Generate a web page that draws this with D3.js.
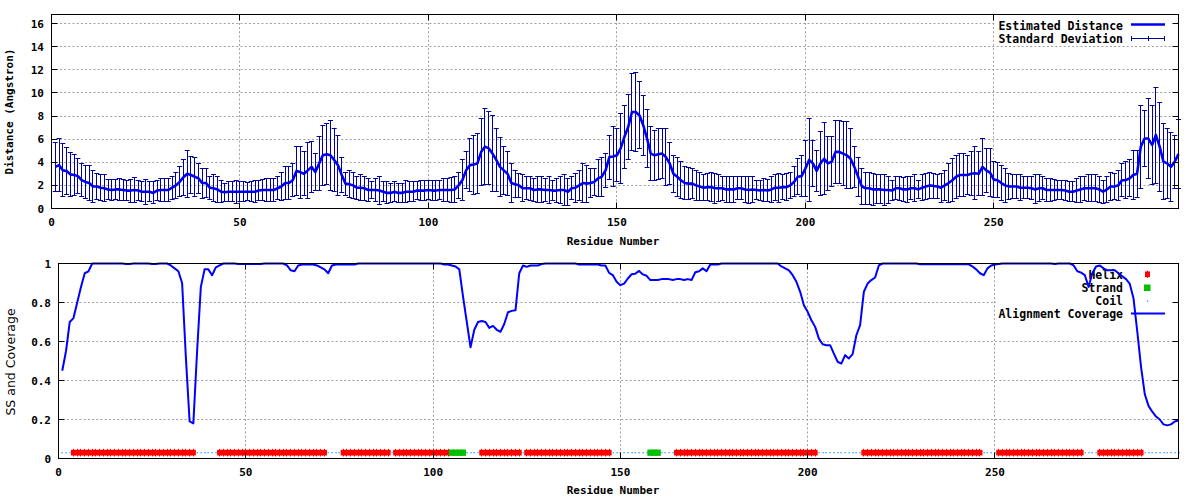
<!DOCTYPE html>
<html><head><meta charset="utf-8">
<script src="https://cdn.jsdelivr.net/npm/d3@7"></script>
<style>body{margin:0;background:#fff}svg{display:block}</style>
</head><body>
<svg id="c" width="1200" height="500"></svg>
<script>
// ---------- DATA (residues 1..299) ----------
const distance = [
3.6,3.75,3.3,3.25,2.95,2.9,2.8,2.45,2.3,2.2,
1.9,1.9,1.8,1.75,1.65,1.6,1.65,1.65,1.6,1.55,
1.55,1.6,1.55,1.45,1.45,1.45,1.35,1.55,1.6,1.6,
1.6,1.8,2.0,2.3,2.7,3.0,2.9,2.75,2.6,2.2,
2.2,1.8,1.75,1.65,1.45,1.4,1.45,1.45,1.45,1.45,
1.45,1.45,1.45,1.45,1.55,1.6,1.6,1.6,1.6,1.75,
1.9,2.2,2.2,2.45,3.25,3.15,3.0,3.3,3.6,3.15,
3.9,4.6,4.7,4.6,4.2,3.75,2.9,2.15,2.1,2.0,
1.8,1.8,1.75,1.6,1.6,1.6,1.55,1.45,1.35,1.35,
1.45,1.35,1.35,1.45,1.45,1.45,1.55,1.55,1.55,1.6,
1.55,1.55,1.6,1.6,1.6,1.6,1.65,2.0,2.45,3.3,
3.75,3.8,3.9,4.9,5.35,5.2,4.75,4.2,3.6,3.3,
3.0,2.2,2.1,2.0,1.75,1.75,1.75,1.6,1.65,1.65,
1.6,1.6,1.55,1.55,1.6,1.6,1.45,1.75,1.8,2.0,
2.2,2.15,2.2,2.3,2.6,2.75,3.3,4.45,4.5,4.6,
5.2,6.2,7.05,8.35,8.35,8.05,7.2,6.05,4.75,4.6,
4.7,4.75,4.45,3.9,3.0,2.75,2.45,2.2,2.15,2.15,
2.0,1.9,1.8,1.85,1.85,1.75,1.75,1.75,1.65,1.65,
1.65,1.75,1.75,1.65,1.6,1.65,1.6,1.55,1.6,1.55,
1.65,1.8,1.8,1.85,1.85,2.0,2.3,2.75,2.8,3.45,
4.2,3.9,3.25,3.9,4.3,3.9,4.05,4.9,4.9,4.75,
4.6,4.3,3.6,2.75,1.9,1.75,1.75,1.65,1.65,1.65,
1.6,1.6,1.55,1.75,1.75,1.65,1.65,1.75,1.75,1.65,
1.8,1.9,2.0,1.95,1.9,1.8,2.0,2.2,2.45,2.75,
2.9,2.9,2.9,3.0,3.05,3.0,3.6,3.3,3.1,2.5,
2.45,2.2,2.0,1.9,1.9,1.9,1.8,1.8,1.8,1.75,
1.65,1.75,1.75,1.6,1.6,1.6,1.6,1.6,1.55,1.45,
1.45,1.55,1.65,1.75,1.75,1.75,1.75,1.65,1.45,1.65,
1.9,1.9,2.0,2.45,2.45,2.6,2.9,3.0,5.35,6.05,
6.05,5.5,6.35,5.35,4.05,3.9,3.6,4.05,4.7];

const stdDev = [
2.1,2.3,2.3,2.0,1.9,1.8,1.5,1.45,1.45,1.5,
1.4,1.15,1.15,1.15,0.9,0.95,0.9,0.95,0.95,0.9,
1.0,1.1,0.9,0.85,1.1,0.85,0.95,0.9,1.0,1.0,
1.0,1.0,1.15,1.3,1.55,2.05,1.6,1.7,1.3,1.3,
1.25,1.0,1.15,1.1,0.95,0.8,0.85,0.85,1.0,0.85,
0.85,0.8,0.85,0.95,0.9,0.95,1.0,1.0,1.0,1.0,
1.25,1.4,1.45,1.45,2.15,2.25,1.9,2.45,2.2,1.6,
2.3,2.6,2.65,3.05,2.7,2.6,1.55,1.0,1.15,1.15,
1.0,1.1,1.05,1.0,0.7,1.0,1.2,0.85,0.95,0.85,
0.85,0.85,0.85,0.95,0.85,0.85,0.75,0.9,0.9,0.85,
0.9,0.9,0.85,1.0,1.0,1.05,1.1,1.15,1.75,1.6,
2.3,2.55,2.6,2.9,3.3,3.15,3.3,2.7,2.55,2.05,
1.9,1.7,1.15,1.05,1.15,1.0,1.05,1.0,1.1,1.1,
1.0,1.15,0.9,1.05,1.15,1.3,1.15,1.0,1.25,1.3,
1.7,1.6,1.25,1.15,1.6,1.7,1.45,1.9,2.6,2.3,
3.0,2.75,2.8,3.3,3.45,2.9,2.6,2.5,2.3,2.15,
2.2,2.15,2.45,1.85,1.6,1.7,1.6,1.4,1.4,1.3,
1.3,1.25,1.15,1.2,1.25,1.3,1.15,1.05,1.1,1.1,
1.1,1.0,1.0,1.1,1.15,1.1,0.85,0.9,1.0,0.95,
1.1,1.15,1.25,1.1,1.2,1.15,1.3,1.55,1.8,2.45,
3.6,2.0,1.8,2.75,3.1,2.3,2.15,2.75,2.75,2.75,
2.9,2.6,1.75,1.7,1.55,1.4,1.4,1.4,1.25,1.25,
1.3,1.15,0.9,1.0,1.05,1.05,1.1,1.0,1.15,0.8,
1.1,1.15,1.15,1.1,1.0,1.25,1.3,1.7,1.85,1.85,
1.9,1.85,1.7,1.9,2.3,1.9,2.45,1.9,2.1,1.55,
1.5,1.55,1.45,1.15,1.05,1.0,1.1,0.95,0.95,1.0,
1.25,1.15,1.0,1.0,1.0,0.9,0.85,0.85,0.85,0.85,
0.85,1.05,1.1,1.05,1.15,1.15,1.15,1.15,1.0,1.1,
1.2,1.15,1.3,1.45,1.6,1.6,2.15,2.05,3.6,2.45,
3.45,3.45,4.15,3.85,3.3,3.0,3.0,2.3,3.0];

const coverage = [
0.45,0.55,0.70,0.72,0.80,0.88,0.95,0.96,1.0,1.0,
1.0,1.0,1.0,1.0,1.0,1.0,1.0,0.997,0.997,1.0,
1.0,1.0,1.0,1.0,0.997,0.997,1.0,1.0,1.0,0.99,
0.975,0.96,0.90,0.52,0.19,0.18,0.55,0.88,0.97,0.97,
0.94,0.98,0.99,1.0,1.0,1.0,1.0,0.997,0.997,0.997,
0.997,0.997,0.997,0.997,1.0,1.0,1.0,1.0,1.0,1.0,
0.99,0.965,0.96,0.99,0.995,0.995,0.995,0.995,0.99,0.98,
0.97,0.95,0.99,0.995,0.995,0.995,0.995,0.995,0.995,1.0,
1.0,1.0,1.0,1.0,1.0,1.0,1.0,1.0,1.0,1.0,
1.0,1.0,1.0,1.0,1.0,1.0,1.0,1.0,1.0,1.0,
1.0,1.0,0.995,0.995,0.99,0.985,0.97,0.83,0.70,0.57,
0.66,0.70,0.705,0.70,0.67,0.68,0.66,0.65,0.69,0.75,
0.757,0.76,0.95,0.99,0.983,0.99,0.99,0.99,0.997,1.0,
1.0,1.0,1.0,1.0,1.0,1.0,1.0,1.0,0.995,0.995,
0.995,0.995,0.995,0.995,0.99,0.99,0.952,0.94,0.906,0.889,
0.897,0.923,0.945,0.948,0.962,0.944,0.937,0.915,0.915,0.915,
0.92,0.92,0.92,0.915,0.92,0.92,0.915,0.92,0.915,0.955,
0.96,0.975,0.96,0.995,0.995,0.995,1.0,1.0,1.0,1.0,
1.0,1.0,1.0,1.0,1.0,1.0,1.0,1.0,1.0,1.0,
1.0,1.0,0.985,0.975,0.965,0.94,0.906,0.855,0.786,0.752,
0.709,0.675,0.615,0.586,0.581,0.581,0.538,0.496,0.487,0.53,
0.513,0.535,0.632,0.684,0.855,0.897,0.915,0.928,0.99,1.0,
1.0,1.0,1.0,1.0,1.0,1.0,1.0,1.0,1.0,0.996,
0.996,0.996,0.996,0.996,0.996,0.996,0.996,0.996,0.996,0.996,
0.996,0.996,0.996,0.985,0.97,0.95,0.94,0.975,0.99,0.995,
0.997,1.0,1.0,1.0,1.0,1.0,1.0,1.0,1.0,1.0,
1.0,1.0,1.0,1.0,1.0,0.997,1.0,1.0,1.0,1.0,
0.99,0.96,0.953,0.94,0.88,0.95,0.985,0.99,0.975,0.965,
0.965,0.965,0.95,0.935,0.92,0.895,0.82,0.65,0.47,0.33,
0.27,0.24,0.215,0.2,0.175,0.17,0.175,0.19,0.195];

// secondary structure segments [first residue, last residue]; all other residues are coil
const helixSegments  = [[4,36],[43,71],[76,88],[90,104],[113,123],[125,147],[165,202],[215,246],[251,273],[278,289]];
const strandSegments = [[105,108],[158,160]];
const ssLevel = 0.03;

const residueTicks = [0,50,100,150,200,250];
const distTicks = [0,2,4,6,8,10,12,14,16];
const covTicks = [0,0.2,0.4,0.6,0.8,1];
const residueDomain = [0,299];

// ---------- DRAW ----------
const svg = d3.select('#c');
const MONO = "'DejaVu Sans Mono', 'Liberation Mono', monospace";
const GRID = '#a0a0a0';

const xTop = d3.scaleLinear().domain(residueDomain).range([51.5,1178.5]);
const yTop = d3.scaleLinear().domain([0,16.78]).range([208.5,14.5]);
const xBot = d3.scaleLinear().domain(residueDomain).range([58.5,1178.5]);
const yBot = d3.scaleLinear().domain([0,1]).range([458.5,263.5]);

const px = v => Math.round(v - 0.5) + 0.5;

function panelBase(x, y, yTickVals, yFmt, xLabelBase, titleBase) {
  const [L,R] = x.range(), [B,T] = y.range();
  const g = svg.append('g');
  // grid
  g.selectAll(null).data(residueTicks.filter(t => x(t) > L+1 && x(t) < R-1)).join('line')
    .attr('x1', d=>px(x(d))).attr('x2', d=>px(x(d))).attr('y1', T).attr('y2', B)
    .attr('stroke', GRID).attr('stroke-dasharray','2,2.2').attr('stroke-width',1);
  g.selectAll(null).data(yTickVals.filter(t => y(t) < B-1 && y(t) > T+1)).join('line')
    .attr('x1', L).attr('x2', R).attr('y1', d=>px(y(d))).attr('y2', d=>px(y(d)))
    .attr('stroke', GRID).attr('stroke-dasharray','2,2.2').attr('stroke-width',1);
  // x tick labels
  g.selectAll(null).data(residueTicks).join('text')
    .attr('x', d=>x(d)).attr('y', xLabelBase).attr('text-anchor','middle')
    .attr('font-family', MONO).attr('font-weight','bold').attr('font-size', 11)
    .text(d=>d);
  // y tick labels
  g.selectAll(null).data(yTickVals).join('text')
    .attr('x', L-7.5).attr('y', d=>y(d)+4).attr('text-anchor','end')
    .attr('font-family', MONO).attr('font-weight','bold').attr('font-size', 11)
    .text(d=>yFmt(d));
  // x title
  g.append('text').attr('x', 613).attr('y', titleBase).attr('text-anchor','middle')
    .attr('font-family', MONO).attr('font-weight','bold').attr('font-size', 11)
    .text('Residue Number');
  return g;
}

function panelFrame(x, y, yTickVals) {
  const [L,R] = x.range(), [B,T] = y.range();
  const g = svg.append('g').attr('stroke','#000').attr('stroke-width',1);
  residueTicks.forEach(t => {
    const xx = px(x(t));
    g.append('line').attr('x1',xx).attr('x2',xx).attr('y1',B).attr('y2',B-6);
    g.append('line').attr('x1',xx).attr('x2',xx).attr('y1',T).attr('y2',T+6);
  });
  yTickVals.forEach(t => {
    const yy = px(y(t));
    g.append('line').attr('x1',L).attr('x2',L+6).attr('y1',yy).attr('y2',yy);
    g.append('line').attr('x1',R).attr('x2',R-6).attr('y1',yy).attr('y2',yy);
  });
  g.append('rect').attr('x',L).attr('y',T).attr('width',R-L).attr('height',B-T).attr('fill','none');
}

// ===== TOP PANEL =====
panelBase(xTop, yTop, distTicks, d3.format('d'), 226, 245);
// key background
svg.append('rect').attr('x',996).attr('y',15).attr('width',182).attr('height',30).attr('fill','#fff');

const ERR = '#00009c', LINE = '#0000ee';
const topData = distance.map((v,i)=>({r:i+1, v, sd:stdDev[i]}));
const eb = svg.append('g').attr('stroke', ERR).attr('stroke-width',1);
eb.selectAll('line.v').data(topData).join('line').attr('class','v')
  .attr('x1',d=>px(xTop(d.r))).attr('x2',d=>px(xTop(d.r)))
  .attr('y1',d=>yTop(d.v-d.sd)).attr('y2',d=>yTop(d.v+d.sd));
eb.selectAll('line.t').data(topData).join('line').attr('class','t')
  .attr('x1',d=>xTop(d.r)-2.5).attr('x2',d=>xTop(d.r)+2.5)
  .attr('y1',d=>px(yTop(d.v+d.sd))).attr('y2',d=>px(yTop(d.v+d.sd)));
eb.selectAll('line.b').data(topData).join('line').attr('class','b')
  .attr('x1',d=>xTop(d.r)-2.5).attr('x2',d=>xTop(d.r)+2.5)
  .attr('y1',d=>px(yTop(d.v-d.sd))).attr('y2',d=>px(yTop(d.v-d.sd)));
svg.append('path').datum(topData)
  .attr('d', d3.line().x(d=>xTop(d.r)).y(d=>yTop(d.v)))
  .attr('fill','none').attr('stroke',LINE).attr('stroke-width',2.6).attr('stroke-linejoin','round');

panelFrame(xTop, yTop, distTicks);

svg.append('text').attr('transform','translate(13,111.5) rotate(-90)')
  .attr('text-anchor','middle').attr('font-family',MONO).attr('font-weight','bold').attr('font-size',11)
  .text('Distance (Angstron)');

// top legend
const keyTop = svg.append('g').attr('font-family',MONO).attr('font-weight','bold').attr('font-size',11.5);
keyTop.append('text').attr('x',1123).attr('y',30).attr('text-anchor','end').text('Estimated Distance');
keyTop.append('text').attr('x',1123).attr('y',43).attr('text-anchor','end').text('Standard Deviation');
keyTop.append('line').attr('x1',1131).attr('x2',1165).attr('y1',24.5).attr('y2',24.5)
  .attr('stroke',LINE).attr('stroke-width',2.6);
const ks = keyTop.append('g').attr('stroke',ERR).attr('stroke-width',1);
ks.append('line').attr('x1',1131).attr('x2',1165).attr('y1',38.5).attr('y2',38.5);
[1131.5,1148.5,1164.5].forEach(xx=>ks.append('line').attr('x1',xx).attr('x2',xx).attr('y1',36).attr('y2',41));

// ===== BOTTOM PANEL =====
panelBase(xBot, yBot, covTicks, d3.format(''), 476, 494);
svg.append('rect').attr('x',996).attr('y',264).attr('width',182).attr('height',56).attr('fill','#fff');

// SS per residue
const ss = distance.map((_,i)=>{
  const r=i+1;
  if (strandSegments.some(s=>r>=s[0]&&r<=s[1])) return 'E';
  if (helixSegments.some(s=>r>=s[0]&&r<=s[1])) return 'H';
  return 'C';
});
const ssData = ss.map((s,i)=>({r:i+1, s}));
const cy = yBot(ssLevel);
const RED='#ff0000', GREEN='#00c000', COIL='#1e90ff';
svg.selectAll('rect.coil').data(ssData.filter(d=>d.s==='C')).join('rect').attr('class','coil')
  .attr('x',d=>Math.round(xBot(d.r))-0.5).attr('y',Math.round(cy)-1).attr('width',1.2).attr('height',1.3).attr('fill',COIL);
svg.selectAll('rect.helix').data(ssData.filter(d=>d.s==='H')).join('rect').attr('class','helix')
  .attr('x',d=>xBot(d.r)-2.5).attr('y',cy-2.8).attr('width',5).attr('height',5.6).attr('fill',RED);
svg.selectAll('line.helix').data(ssData.filter(d=>d.s==='H')).join('line').attr('class','helix')
  .attr('x1',d=>px(xBot(d.r))).attr('x2',d=>px(xBot(d.r))).attr('y1',cy-3.8).attr('y2',cy+3.8)
  .attr('stroke',RED).attr('stroke-width',1);
svg.selectAll('rect.strand').data(ssData.filter(d=>d.s==='E')).join('rect').attr('class','strand')
  .attr('x',d=>xBot(d.r)-3).attr('y',cy-3.1).attr('width',6).attr('height',6.3).attr('fill',GREEN);

// bottom legend
const keyB = svg.append('g').attr('font-family',MONO).attr('font-weight','bold').attr('font-size',11.5);
[['Helix',279],['Strand',292.3],['Coil',305.3],['Alignment Coverage',318.3]].forEach(([t,yy])=>
  keyB.append('text').attr('x',1123).attr('y',yy).attr('text-anchor','end').text(t));
keyB.append('rect').attr('x',1145).attr('y',271.5).attr('width',5).attr('height',5.6).attr('fill',RED);
keyB.append('line').attr('x1',1147.5).attr('x2',1147.5).attr('y1',270.5).attr('y2',278).attr('stroke',RED);
keyB.append('rect').attr('x',1144).attr('y',284.5).attr('width',6.5).attr('height',6.5).attr('fill',GREEN);
keyB.append('rect').attr('x',1147).attr('y',300.5).attr('width',1.2).attr('height',1.3).attr('fill',COIL);
keyB.append('line').attr('x1',1131).attr('x2',1165).attr('y1',313.5).attr('y2',313.5)
  .attr('stroke','#0000ff').attr('stroke-width',2);

// coverage line
svg.append('path').datum(coverage.map((v,i)=>({r:i+1,v})))
  .attr('d', d3.line().x(d=>xBot(d.r)).y(d=>yBot(d.v)))
  .attr('fill','none').attr('stroke','#0000ff').attr('stroke-width',2).attr('stroke-linejoin','round');

panelFrame(xBot, yBot, covTicks);

svg.append('text').attr('transform','translate(14.5,362) rotate(-90)')
  .attr('text-anchor','middle').attr('font-family',"'DejaVu Sans', sans-serif").attr('font-size',12.5)
  .text('SS and Coverage');
</script>
</body></html>
